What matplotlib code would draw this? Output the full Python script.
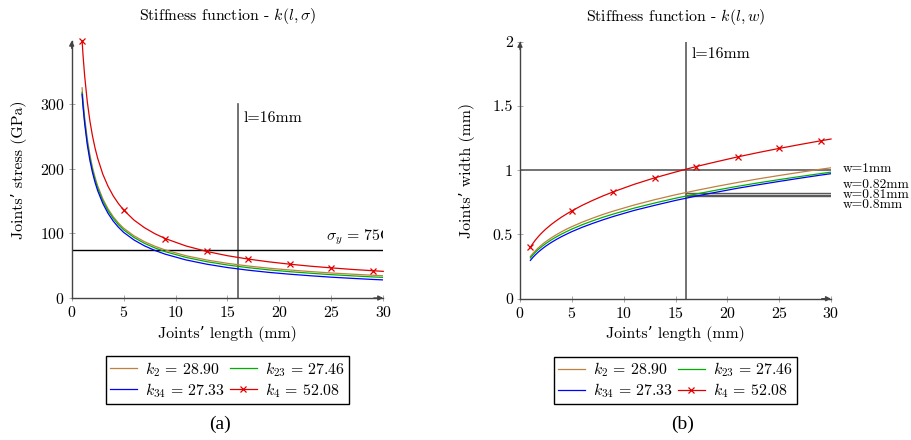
import matplotlib
matplotlib.use("Agg")
import matplotlib.pyplot as plt

plt.rcParams.update({
    "font.family": ["cmr10", "DejaVu Serif"],
    "mathtext.fontset": "cm",
    "axes.formatter.use_mathtext": True,
    "font.size": 11.4,
})

# Joint length samples (mm)
length_mm = [1, 1.1, 1.25, 1.5, 1.75, 2, 2.25, 2.5, 3, 3.5, 4, 4.5, 5, 6, 7, 8, 9,
             11, 13, 15, 17, 19, 21, 23, 25, 27, 29, 30]
marker_lengths = [1, 5, 9, 13, 17, 21, 25, 29]

# Joint stress (GPa) for each stiffness
stress_k2 = [325, 304.4, 279.0, 246.2, 221.5, 202.1, 186.5, 173.5, 153.1, 137.8, 125.7, 116.0,
             108.0, 96.2, 87.2, 80.1, 74.3, 65.4, 58.8, 53.6, 49.5, 46.1, 43.3, 40.9, 38.7,
             36.9, 35.2, 34.5]
stress_k23 = [318, 297.6, 273.0, 241.2, 217.0, 198.1, 182.9, 170.2, 150.1, 135.0, 123.1, 113.4,
              105.4, 93.6, 84.6, 77.5, 71.7, 62.8, 56.2, 51.0, 46.9, 43.5, 40.7, 38.3, 36.1,
              34.3, 32.6, 31.9]
stress_k34 = [315, 294.6, 269.5, 237.2, 213.0, 194.1, 178.7, 166.0, 146.1, 130.9, 118.9, 109.4,
              101.5, 89.7, 80.7, 73.6, 67.8, 58.9, 52.3, 47.1, 43.0, 39.6, 36.8, 34.4, 32.2,
              30.4, 28.7, 28.0]
stress_k4 = [398, 373.5, 343.0, 303.7, 274.1, 250.7, 231.8, 216.1, 191.3, 172.7, 157.9, 146.0,
             136.1, 120.5, 108.8, 99.5, 92.0, 80.5, 72.0, 65.4, 60.2, 55.9, 52.3, 49.2, 46.6,
             44.2, 42.2, 41.2]

# Joint width (mm) for each stiffness
width_k2 = [0.328, 0.339, 0.353, 0.375, 0.395, 0.413, 0.430, 0.445, 0.473, 0.498, 0.521, 0.542,
            0.561, 0.596, 0.627, 0.656, 0.682, 0.729, 0.771, 0.809, 0.843, 0.875, 0.905, 0.933,
            0.959, 0.984, 1.008, 1.019]
width_k23 = [0.317, 0.327, 0.341, 0.363, 0.382, 0.399, 0.415, 0.430, 0.457, 0.481, 0.503, 0.523,
             0.542, 0.576, 0.606, 0.634, 0.659, 0.705, 0.745, 0.782, 0.815, 0.846, 0.875, 0.902,
             0.927, 0.951, 0.974, 0.985]
width_k34 = [0.298, 0.308, 0.322, 0.343, 0.362, 0.379, 0.395, 0.410, 0.437, 0.461, 0.483, 0.503,
             0.522, 0.556, 0.586, 0.614, 0.640, 0.687, 0.727, 0.765, 0.799, 0.830, 0.860, 0.887,
             0.913, 0.938, 0.962, 0.973]
width_k4 = [0.400, 0.413, 0.431, 0.458, 0.482, 0.504, 0.524, 0.543, 0.577, 0.607, 0.635, 0.660,
            0.684, 0.727, 0.765, 0.800, 0.832, 0.890, 0.941, 0.986, 1.029, 1.067, 1.104, 1.138,
            1.170, 1.200, 1.229, 1.243]

legend_labels = [r"$k_2\,=\,28.90$", r"$k_{23}\,=\,27.46$", r"$k_{34}\,=\,27.33$",
                 r"$k_4\,=\,52.08$"]
series_colors = ["#bf8040", "#00b000", "#0000ff", "#e00000"]

chosen_length = 16
yield_stress = 75
target_widths = [1.0, 0.82, 0.81, 0.80]
width_labels = ["w=1mm", "w=0.82mm", "w=0.81mm", "w=0.8mm"]

AXIS_GRAY = "#444444"
REF_GRAY = "#5a5a5a"

fig = plt.figure(figsize=(9.11, 4.40), dpi=100)
ax_a = fig.add_axes([0.0787, 0.3227, 0.342, 0.585])
ax_b = fig.add_axes([0.5708, 0.3211, 0.3414, 0.584])

mark_idx = [length_mm.index(v) for v in marker_lengths]


def style_axes(ax):
    for side in ("top", "right"):
        ax.spines[side].set_visible(False)
    for side in ("left", "bottom"):
        ax.spines[side].set_color(AXIS_GRAY)
        ax.spines[side].set_linewidth(1.0)
    ax.tick_params(direction="inout", length=4, width=0.6, color="#999999",
                   labelsize=11.4, pad=3)
    arrow = dict(arrowstyle="-|>", color=AXIS_GRAY, lw=1.0, mutation_scale=7,
                 shrinkA=0, shrinkB=0)
    ax.annotate("", xy=(1.0, 0), xytext=(0.97, 0), xycoords="axes fraction",
                arrowprops=arrow, annotation_clip=False)
    ax.annotate("", xy=(0, 1.0), xytext=(0, 0.97), xycoords="axes fraction",
                arrowprops=arrow, annotation_clip=False)
    ax.set_xlim(0, 30)
    ax.set_xticks([0, 5, 10, 15, 20, 25, 30])
    ax.set_xlabel("Joints\u2019 length (mm)", labelpad=4)


def draw_series(ax, values):
    handles = []
    for vals, col, lab in zip(values, series_colors, legend_labels):
        if col == series_colors[-1]:
            h, = ax.plot(length_mm, vals, color=col, lw=0.9, marker="x", ms=3.8,
                         mew=0.9, markevery=mark_idx, label=lab, clip_on=False, zorder=4)
        else:
            h, = ax.plot(length_mm, vals, color=col, lw=0.9, label=lab, zorder=3)
        handles.append(h)
    order = [0, 2, 1, 3]
    ax.legend([handles[i] for i in order], [legend_labels[i] for i in order],
              ncol=2, loc="upper center", bbox_to_anchor=(0.5, -0.225),
              borderaxespad=0, frameon=True, fancybox=False, edgecolor="black",
              framealpha=1, handlelength=1.7, handletextpad=0.5, columnspacing=0.3,
              labelspacing=0.15, borderpad=0.25, fontsize=11.4)


# (a) stress versus length
style_axes(ax_a)
ax_a.set_ylim(0, 398)
ax_a.set_yticks([0, 100, 200, 300])
ax_a.set_ylabel("Joints\u2019 stress (GPa)", labelpad=9)
ax_a.set_title(r"Stiffness function - $k(l,\sigma)$", pad=15, fontsize=11.4)
draw_series(ax_a, [stress_k2, stress_k23, stress_k34, stress_k4])
ax_a.plot([chosen_length, chosen_length], [0, 300], color=REF_GRAY, lw=1.2, zorder=2)
ax_a.axhline(yield_stress, color="black", lw=1.0, zorder=2)
ax_a.text(chosen_length + 0.5, 278, "l=16mm", ha="left", va="center")
ax_a.text(24.5, 89.5, r"$\sigma_y\,=\,75\mathrm{GPa}$", ha="left",
          va="baseline", clip_on=True)

# (b) width versus length
style_axes(ax_b)
ax_b.set_ylim(0, 2)
ax_b.set_yticks([0, 0.5, 1, 1.5, 2])
ax_b.set_yticklabels(["0", "0.5", "1", "1.5", "2"])
ax_b.set_ylabel("Joints\u2019 width (mm)", labelpad=13)
ax_b.set_title(r"Stiffness function - $k(l,w)$", pad=15, fontsize=11.4)
draw_series(ax_b, [width_k2, width_k23, width_k34, width_k4])
ax_b.plot([chosen_length, chosen_length], [0, 2], color=REF_GRAY, lw=1.2, zorder=2)
ax_b.plot([0, 30], [target_widths[0]] * 2, color=REF_GRAY, lw=1.2, zorder=2)
for w in target_widths[1:]:
    ax_b.plot([chosen_length, 30], [w, w], color=REF_GRAY, lw=1.0, zorder=2)
ax_b.text(chosen_length + 0.5, 1.905, "l=16mm", ha="left", va="center")
label_y = [1.013, 0.884, 0.804, 0.731]
for ty, txt in zip(label_y, width_labels):
    ax_b.text(31.15, ty, txt, ha="left", va="center", fontsize=9.7)

# Sub-figure captions
fig.text(220 / 911, 1 - 424 / 440, "(a)", ha="center", va="center",
         family="Liberation Serif", fontsize=14)
fig.text(683 / 911, 1 - 424 / 440, "(b)", ha="center", va="center",
         family="Liberation Serif", fontsize=14)

fig.savefig("out.png", dpi=100)
